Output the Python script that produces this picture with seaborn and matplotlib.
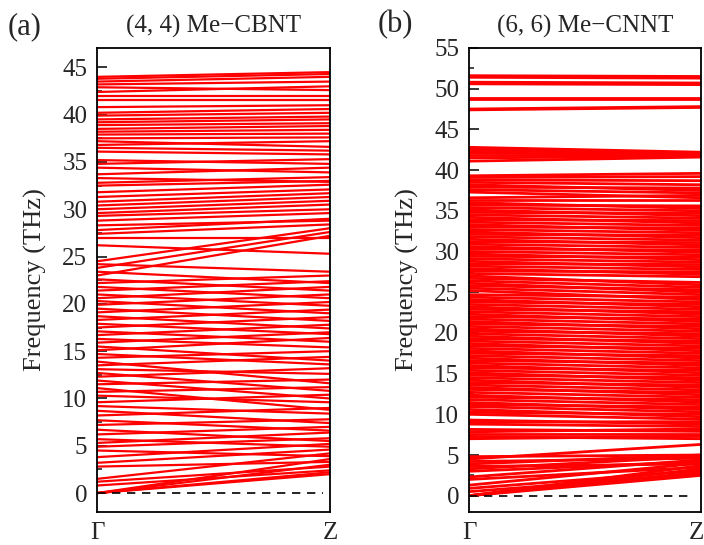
import numpy as np
import pandas as pd
import matplotlib
matplotlib.use("Agg")
import matplotlib.pyplot as plt
import seaborn as sns
from matplotlib.ticker import MultipleLocator
from matplotlib.transforms import ScaledTranslation

# (4, 4) Me-CBNT: phonon frequencies (THz) of each band at Gamma and at Z
gamma_a = [0.0, 0.0, 0.0, 0.0, 0.8, 1.2, 1.5, 2.8, 3.2, 3.8,
           4.5, 4.9, 5.3, 5.7, 6.2, 6.7, 7.2, 7.7, 8.2, 8.7,
           9.2, 9.6, 10.3, 10.7, 11.1, 11.5, 11.9, 12.3, 12.7, 13.1,
           13.5, 13.9, 14.3, 14.7, 15.1, 15.5, 15.9, 16.3, 16.7, 17.1,
           17.5, 17.9, 18.3, 18.7, 19.1, 19.5, 19.9, 20.3, 20.6, 21.0,
           21.4, 21.8, 22.2, 22.6, 23.0, 23.4, 23.8, 24.2, 24.5, 26.2,
           27.0, 27.4, 27.8, 28.3, 28.8, 29.3, 29.6, 30.0, 30.4, 30.8,
           31.3, 31.8, 32.5, 32.8, 33.3, 33.7, 34.4, 34.8, 35.2, 36.1,
           36.5, 36.8, 37.2, 37.5, 37.9, 38.2, 38.5, 38.9, 39.2, 39.5,
           39.9, 40.2, 40.8, 41.6, 42.0, 42.4, 42.9, 43.2, 43.5, 43.8, 44.0]
z_a = [2.0, 2.2, 3.0, 3.6, 2.4, 2.8, 4.2, 3.3, 4.6, 5.2,
       3.9, 5.8, 6.4, 4.9, 7.0, 5.5, 7.8, 6.6, 9.0, 7.4,
       8.4, 10.4, 9.6, 11.2, 8.8, 12.0, 10.0, 13.2, 10.8, 12.6,
       14.4, 11.6, 15.0, 13.6, 16.4, 14.0, 17.0, 15.4, 17.8, 16.0,
       18.6, 16.8, 19.4, 17.4, 20.2, 18.2, 21.0, 19.0, 21.8, 19.8,
       22.4, 20.6, 23.0, 21.4, 27.2, 22.2, 27.6, 23.4, 28.0, 25.3,
       27.0, 28.4, 29.0, 28.8, 29.6, 30.0, 30.5, 30.9, 31.3, 31.7,
       32.1, 32.6, 33.0, 33.4, 32.9, 34.4, 33.9, 35.3, 34.8, 35.8,
       36.2, 37.2, 36.6, 37.6, 38.0, 38.4, 38.8, 39.1, 39.5, 39.8,
       40.2, 40.6, 41.0, 41.6, 42.0, 43.0, 42.6, 43.5, 44.0, 44.3, 44.5]

# (6, 6) Me-CNNT: low-lying bands
gamma_b_low = [0.0, 0.0, 0.0, 0.0, 0.5, 0.9, 1.3, 2.0, 2.3, 3.0, 3.3, 3.6, 3.9, 4.2, 4.5, 4.8]
z_b_low = [2.5, 2.9, 3.3, 3.7, 2.7, 3.1, 4.0, 3.5, 4.4, 4.2, 4.8, 3.9, 5.0, 4.6, 6.3, 5.0]

# (6, 6) Me-CNNT: dense optical block
gamma_b_mid = [7.0, 7.25, 7.6, 7.85, 8.15, 8.8, 9.05, 9.3, 10.0, 10.25,
               10.6, 10.95, 11.2, 11.45, 11.8, 12.1, 12.35, 12.7, 13.05, 13.3,
               13.6, 13.9, 14.2, 14.5, 14.8, 15.1, 15.4, 15.7, 16.0, 16.3,
               16.6, 16.9, 17.2, 17.5, 17.8, 18.1, 18.4, 18.7, 19.0, 19.3,
               19.6, 19.9, 20.2, 20.5, 20.8, 21.1, 21.4, 21.7, 22.0, 22.3,
               22.6, 22.9, 23.2, 23.5, 23.8, 24.1, 24.4, 24.7, 25.2, 25.5,
               25.8, 26.1, 26.4, 26.7, 27.0, 27.3, 27.6, 27.9, 28.2, 28.5,
               28.8, 29.1, 29.4, 29.7, 30.0, 30.3, 30.6, 30.9, 31.2, 31.5,
               31.8, 32.1, 32.4, 32.7, 33.0, 33.3, 33.6, 33.9, 34.2, 34.5,
               34.8, 35.1, 35.4, 35.7, 36.0, 36.3, 36.6, 37.3, 37.6, 37.9,
               38.2, 38.5, 38.8, 39.1, 39.3]
z_b_mid = [7.3, 7.0, 7.6, 8.2, 7.9, 8.5, 9.1, 8.8, 9.4, 10.0,
           9.7, 10.3, 10.9, 10.6, 11.2, 11.8, 11.5, 12.1, 12.7, 12.4,
           13.0, 13.6, 13.3, 13.9, 14.5, 14.2, 14.8, 15.4, 15.1, 15.7,
           16.3, 16.0, 16.6, 17.2, 16.9, 17.5, 18.1, 17.8, 18.4, 19.0,
           18.7, 19.3, 19.9, 19.6, 20.2, 20.8, 20.5, 21.1, 21.7, 21.4,
           22.0, 22.6, 22.3, 22.9, 23.5, 23.2, 23.8, 24.4, 24.1, 24.7,
           25.3, 25.0, 25.6, 26.2, 25.9, 26.9, 27.5, 27.2, 27.8, 28.4,
           28.1, 28.7, 29.3, 29.0, 29.6, 30.2, 29.9, 30.5, 31.1, 30.8,
           31.4, 32.0, 31.7, 32.3, 32.9, 32.6, 33.2, 33.8, 33.5, 34.1,
           34.7, 34.4, 35.0, 35.6, 35.3, 36.3, 36.9, 36.6, 37.2, 37.8,
           37.5, 38.2, 38.7, 39.2, 39.6]

# (6, 6) Me-CNNT: upper bands above the main block
gamma_b_high = [42.8, 42.6, 42.4, 42.1, 41.8, 41.5, 41.1,
                51.6, 51.4, 50.8, 50.6, 48.8, 48.7, 47.5, 47.4]
z_b_high = [42.2, 42.1, 42.0, 41.9, 41.8, 41.7, 41.6,
            51.5, 51.3, 50.7, 50.5, 48.8, 48.7, 47.8, 47.7]

kpath_labels = ["\u0393", "Z"]
panel_titles = ["(4, 4) Me\u2212CBNT", "(6, 6) Me\u2212CNNT"]
panel_tags = ["(a)", "(b)"]


def bands_frame(gamma, z):
    rows = []
    for i, (g, zz) in enumerate(zip(gamma, z)):
        rows.append({"band": i, "k": 0.0, "freq": g})
        rows.append({"band": i, "k": 1.0, "freq": zz})
    return pd.DataFrame(rows)


sns.set_style("white")
plt.rcParams["font.family"] = ["Liberation Serif", "DejaVu Serif"]

fig = plt.figure(figsize=(7.04, 5.45), dpi=100)
ax_a = fig.add_axes([97 / 704, 1 - 512 / 545, 233 / 704, 464 / 545])
ax_b = fig.add_axes([469 / 704, 1 - 512 / 545, 232 / 704, 464 / 545])

df_a = bands_frame(gamma_a, z_a)
df_b = bands_frame(gamma_b_low + gamma_b_mid + gamma_b_high,
                   z_b_low + z_b_mid + z_b_high)

panels = [(ax_a, df_a, (-2.0, 47.05), 1.6), (ax_b, df_b, (-2.0, 55.0), 2.0)]
for idx, (ax, df, ylim, lw) in enumerate(panels):
    sns.lineplot(data=df, x="k", y="freq", units="band", estimator=None,
                 sort=False, color="#ff0000", lw=lw, ax=ax, legend=False)
    ax.plot([0.0, 0.97], [0, 0], color="black", lw=1.2, ls=(0, (5, 4)), zorder=5)
    ax.set_xlim(0, 1)
    ax.set_ylim(*ylim)
    ax.set_xticks([0, 1])
    ax.set_xticklabels(kpath_labels)
    ax.yaxis.set_major_locator(MultipleLocator(5))
    ax.yaxis.set_minor_locator(MultipleLocator(2.5))
    ax.tick_params(axis="x", length=0, pad=7, labelsize=18)
    ax.tick_params(axis="y", which="major", direction="in", length=7, width=1.3,
                   labelsize=18, pad=7, left=True, right=False)
    ax.tick_params(axis="y", which="minor", direction="in", length=3.5, width=1.2,
                   left=True, right=False)
    for sp in ax.spines.values():
        sp.set_linewidth(1.3)
        sp.set_color("black")
        sp.set_zorder(6)
    ax.set_xlabel("")
    ax.set_ylabel("Frequency (THz)", fontsize=19, labelpad=11)
    ax.set_title(panel_titles[idx], fontsize=18, pad=11)

# keep the Z label of the right panel inside the canvas
zlab = ax_b.get_xticklabels()[1]
zlab.set_transform(zlab.get_transform() + ScaledTranslation(-5 / 100, 0, fig.dpi_scale_trans))

fig.text(8 / 704, 1 - 27 / 545, panel_tags[0], fontsize=22, va="center", ha="left")
fig.text(378 / 704, 1 - 25 / 545, panel_tags[1], fontsize=22, va="center", ha="left")

fig.savefig("out.png", dpi=100)
